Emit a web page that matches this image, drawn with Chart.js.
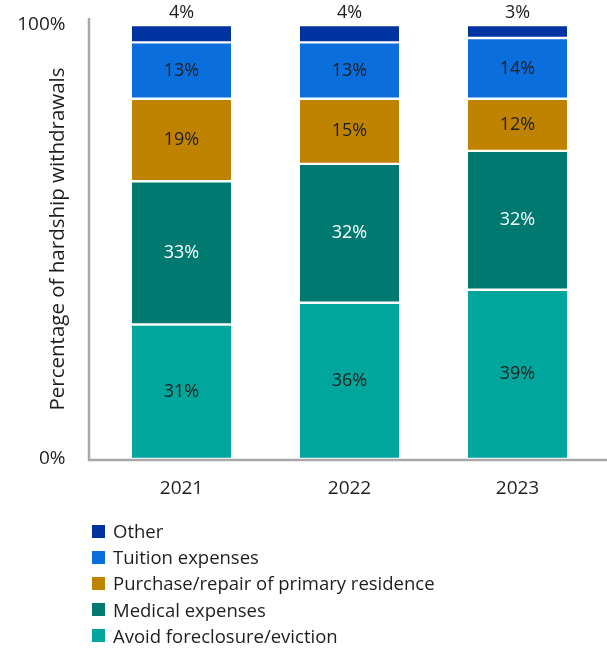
<!DOCTYPE html>
<html>
<head>
<meta charset="utf-8">
<script src="https://cdn.jsdelivr.net/npm/chart.js@4.4.1/dist/chart.umd.min.js"></script>
<style>
  body { margin: 0; background: #fff; }
  #wrap { position: relative; width: 607px; height: 651px; }
  #legend { position: absolute; left: 92px; top: 518px; font-family: "Open Sans", sans-serif; font-size: 18.5px; color: #1e1e1e; }
  #legend div { height: 26.2px; line-height: 26px; display: flex; align-items: center; }
  #legend span.box { width: 13px; height: 13px; margin-right: 8px; display: inline-block; }
</style>
</head>
<body>
<div id="wrap">
  <canvas id="hardshipChart" width="607" height="651"></canvas>
  <div id="legend"></div>
</div>
<script>
// ====== Data ======
const years = ["2021", "2022", "2023"];
const avoidForeclosure = [31, 36, 39];
const medicalExpenses = [33, 32, 32];
const purchaseRepair = [19, 15, 12];
const tuitionExpenses = [13, 13, 14];
const other = [4, 4, 3];

const FONT = "'Open Sans', sans-serif";
const TEXT = "#1e1e1e";

function makeSet(label, data, color, labelColor) {
  return {
    label,
    data,
    backgroundColor: color,
    borderColor: "#ffffff",
    borderWidth: { top: 1.5, bottom: 1.5, left: 0, right: 0 },
    borderSkipped: false,
    barThickness: 99,
    labelColor,
  };
}

// ====== Plugins ======
const segmentLabels = {
  id: "segmentLabels",
  afterDatasetsDraw(chart) {
    const ctx = chart.ctx;
    ctx.save();
    ctx.font = "18px " + FONT;
    ctx.textAlign = "center";
    ctx.textBaseline = "middle";
    chart.data.datasets.forEach((ds, i) => {
      const meta = chart.getDatasetMeta(i);
      meta.data.forEach((bar, j) => {
        const v = ds.data[j];
        ctx.fillStyle = ds.labelColor;
        if (ds.label === "Other") {
          ctx.fillText(v + "%", bar.x, bar.y - 12);
        } else {
          ctx.fillText(v + "%", bar.x, (bar.y + bar.base) / 2);
        }
      });
    });
    ctx.restore();
  },
};

const axisLines = {
  id: "axisLines",
  afterDraw(chart) {
    const ctx = chart.ctx;
    const bottom = chart.chartArea.bottom + 1;
    ctx.save();
    ctx.strokeStyle = "#a8a8a8";
    ctx.lineWidth = 2.5;
    ctx.beginPath();
    ctx.moveTo(89, 18);
    ctx.lineTo(89, bottom);
    ctx.lineTo(607, bottom);
    ctx.stroke();

    // y axis title
    ctx.fillStyle = TEXT;
    ctx.font = "20.5px " + FONT;
    ctx.textAlign = "center";
    ctx.textBaseline = "middle";
    ctx.translate(58, 239);
    ctx.rotate(-Math.PI / 2);
    ctx.fillText("Percentage of hardship withdrawals", 0, 0);
    ctx.restore();
  },
};

// ====== Chart ======
const chart = new Chart(document.getElementById("hardshipChart"), {
  type: "bar",
  data: {
    labels: years,
    datasets: [
      makeSet("Avoid foreclosure/eviction", avoidForeclosure, "#00a59c", TEXT),
      makeSet("Medical expenses", medicalExpenses, "#007a71", "#ffffff"),
      makeSet("Purchase/repair of primary residence", purchaseRepair, "#c08300", TEXT),
      makeSet("Tuition expenses", tuitionExpenses, "#0a6fdc", TEXT),
      makeSet("Other", other, "#0033a0", TEXT),
    ],
  },
  options: {
    responsive: false,
    animation: false,
    layout: { padding: { top: 25, right: 5.5, bottom: 146, left: 0 } },
    plugins: {
      legend: { display: false },
      tooltip: { enabled: false },
    },
    scales: {
      x: {
        stacked: true,
        grid: { display: false, drawTicks: false },
        border: { display: false },
        ticks: { font: { size: 19, family: FONT }, color: TEXT, padding: 18 },
        afterFit: (s) => { s.height = 46; },
      },
      y: {
        stacked: true,
        min: 0,
        max: 100,
        grid: { display: false, drawTicks: false },
        border: { display: false },
        ticks: {
          stepSize: 100,
          callback: (v) => v + "%",
          font: { size: 19, family: FONT },
          color: TEXT,
          padding: 32,
        },
        afterFit: (s) => {
          s.width = 97.5;
          s.paddingTop = 0;
          s.paddingBottom = 0;
        },
      },
    },
  },
  plugins: [segmentLabels, axisLines],
});

// ====== Legend ======
const legend = document.getElementById("legend");
chart.data.datasets.slice().reverse().forEach((ds) => {
  const row = document.createElement("div");
  row.innerHTML = `<span class="box" style="background:${ds.backgroundColor}"></span>${ds.label}`;
  legend.appendChild(row);
});
</script>
</body>
</html>
